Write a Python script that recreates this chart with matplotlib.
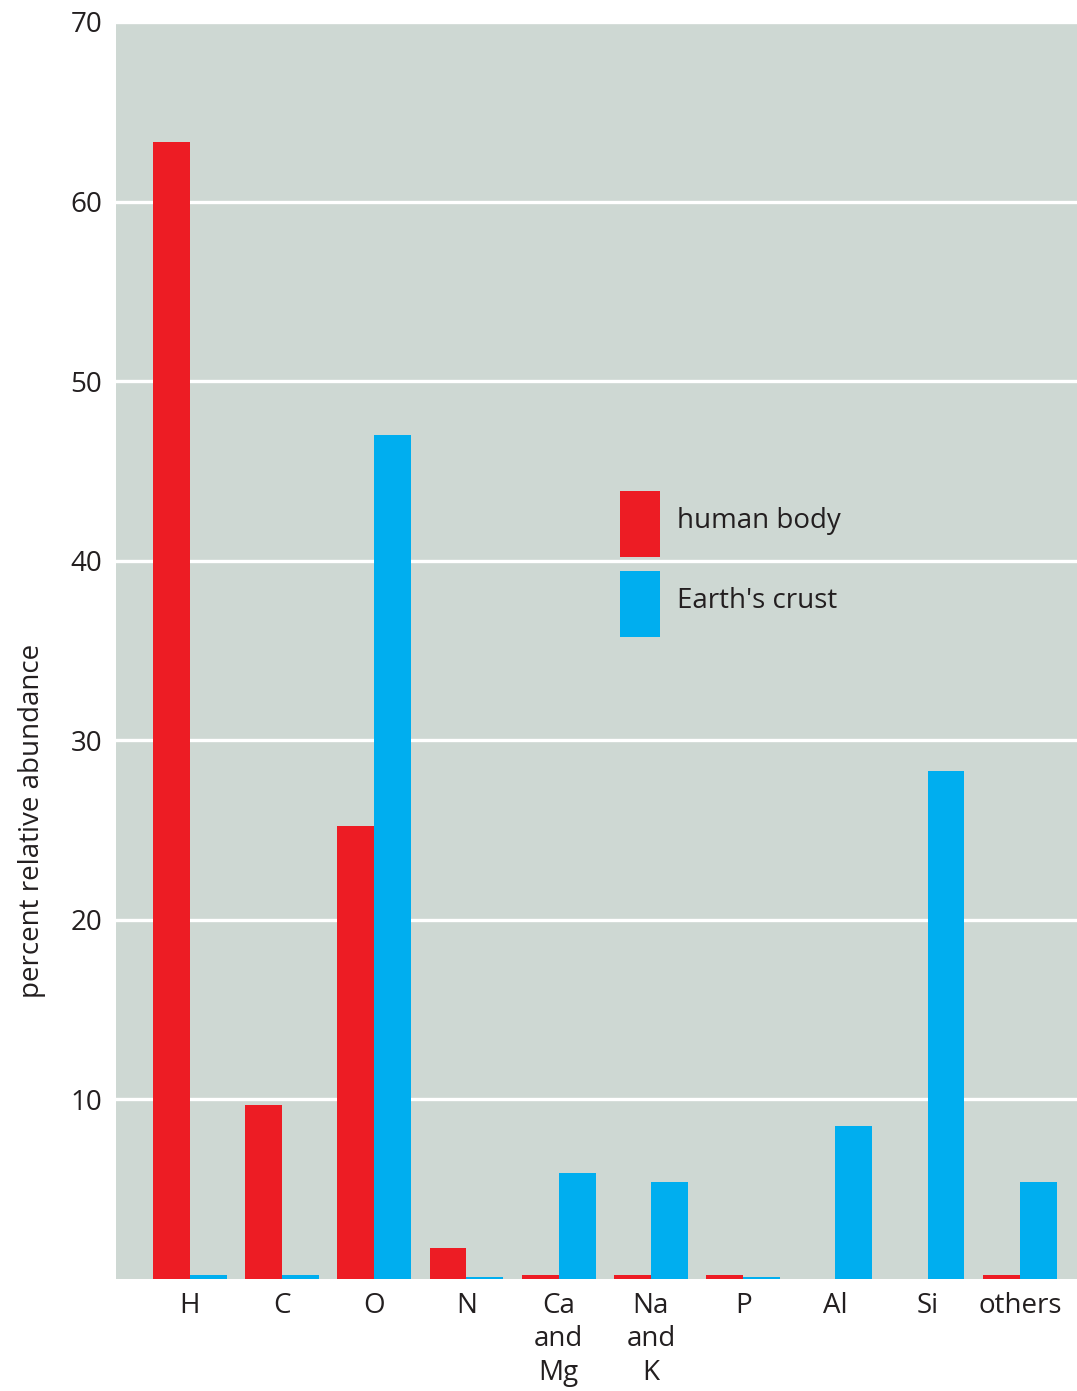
import matplotlib.pyplot as plt
from matplotlib.patches import Rectangle
import numpy as np

plt.rcParams['font.family'] = ['Open Sans', 'DejaVu Sans']

# data
elements = ['H', 'C', 'O', 'N', 'Ca\nand\nMg', 'Na\nand\nK', 'P', 'Al', 'Si', 'others']
human_body = [63.3, 9.7, 25.2, 1.7, 0.25, 0.25, 0.25, 0.0, 0.0, 0.25]
earth_crust = [0.22, 0.22, 47.0, 0.1, 5.9, 5.4, 0.1, 8.5, 28.3, 5.4]
series_names = ['human body', "Earth's crust"]
yticks = [10, 20, 30, 40, 50, 60, 70]

RED = '#ED1C24'
BLUE = '#00AEEF'
BG = '#CED8D3'
TXT = '#231F20'

fig = plt.figure(figsize=(10.77, 13.91), dpi=100)
ax = fig.add_axes([0.1077, 0.0805, 0.8923, 0.9037])
ax.set_facecolor(BG)

x = np.arange(len(elements))
w = 0.40
ax.bar(x - w / 2, human_body, width=w, color=RED, zorder=3)
ax.bar(x + w / 2, earth_crust, width=w, color=BLUE, zorder=3)

ax.set_xlim(-0.8, len(elements) - 1 + 0.62)
ax.set_ylim(0, 70)
ax.set_yticks(yticks)
ax.set_xticks(x)
ax.set_xticklabels(elements, fontsize=20, color=TXT, linespacing=1.28)
ax.tick_params(axis='y', labelsize=20, labelcolor=TXT, length=0, pad=10)
ax.tick_params(axis='x', length=0, pad=9)
ax.grid(axis='y', color='white', linewidth=2.4, zorder=1)
for s in ax.spines.values():
    s.set_visible(False)

fig.text(0.03, 0.41, 'percent relative abundance', rotation=90, fontsize=20,
         color=TXT, ha='center', va='center')

# legend: tall colour blocks with labels beside them
lx, ly_top = 0.5245, 0.627
pw, ph, gap = 0.0416, 0.0525, 0.0111
for i, (name, col) in enumerate(zip(series_names, [RED, BLUE])):
    y0 = ly_top - ph - i * (ph + gap)
    ax.add_patch(Rectangle((lx, y0), pw, ph, transform=ax.transAxes,
                           facecolor=col, edgecolor='none', zorder=4))
    ax.text(lx + pw + 0.018, y0 + ph / 2 + 0.002, name, transform=ax.transAxes,
            fontsize=20, color=TXT, va='center', ha='left', zorder=4)

fig.savefig('out.png', dpi=100)
